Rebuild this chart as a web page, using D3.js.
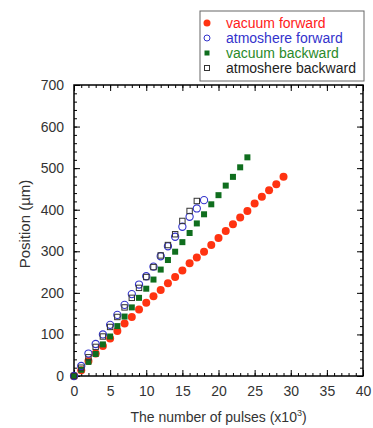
<!DOCTYPE html>
<html>
<head>
<meta charset="utf-8">
<script src="https://cdn.jsdelivr.net/npm/d3@7"></script>
<style>
  body { margin: 0; background: #fff; }
  svg text { font-family: "Liberation Sans", Arial, sans-serif; }
</style>
</head>
<body>
<svg id="chart" width="373" height="428"></svg>
<script>
// pulses (x10^3) and positions (um)
var vacFwdX = d3.range(0, 30);
var vacFwdY = [0, 14, 36, 54, 72, 90, 108, 126, 142, 160, 176, 192, 207, 223, 238,
  254, 271, 285, 299, 315, 332, 349, 365, 381, 397, 415, 431, 447, 461, 479];
var atmFwdX = d3.range(0, 19);
var atmFwdY = [0, 24, 54, 77, 100, 123, 147, 171, 197, 220, 240, 263, 288, 312, 335,
  359, 383, 403, 423];
var vacBwdX = d3.range(0, 25);
var vacBwdY = [0, 15, 34, 53, 76, 95, 120, 143, 165, 188, 210, 232, 256, 279, 299,
  322, 344, 367, 389, 413, 435, 458, 479, 502, 526];
var atmBwdX = d3.range(0, 18);
var atmBwdY = [0, 20, 45, 70, 95, 118, 142, 165, 188, 212, 238, 262, 290, 315, 341,
  373, 397, 421];

var xTicks = [0, 5, 10, 15, 20, 25, 30, 35, 40];
var yTicks = [0, 100, 200, 300, 400, 500, 600, 700];
var legendNames = ["vacuum forward", "atmoshere forward", "vacuum backward", "atmoshere backward"];

var plotL = 74, plotR = 363, plotT = 85, plotB = 376;

var svg = d3.select("#chart");
var x = d3.scaleLinear().domain([0, 40]).range([plotL, plotR]);
var y = d3.scaleLinear().domain([0, 700]).range([plotB, plotT]);

var tickColor = "#000";
var labelColor = "#333";

// minor ticks, all four sides, pointing inwards
function minorAxis(axis, g) {
  g.call(axis).call(function (s) {
    s.select(".domain").remove();
    s.selectAll("text").remove();
    s.selectAll("line").attr("stroke", tickColor);
  });
}
minorAxis(d3.axisBottom(x).tickValues(d3.range(0, 41, 1)).tickSize(-3),
  svg.append("g").attr("transform", "translate(0," + plotB + ")"));
minorAxis(d3.axisTop(x).tickValues(d3.range(0, 41, 1)).tickSize(-3),
  svg.append("g").attr("transform", "translate(0," + plotT + ")"));
minorAxis(d3.axisLeft(y).tickValues(d3.range(0, 701, 20)).tickSize(-3),
  svg.append("g").attr("transform", "translate(" + plotL + ",0)"));
minorAxis(d3.axisRight(y).tickValues(d3.range(0, 701, 20)).tickSize(-3),
  svg.append("g").attr("transform", "translate(" + plotR + ",0)"));

// major ticks
var xAxis = svg.append("g")
  .attr("transform", "translate(0," + plotB + ")")
  .call(d3.axisBottom(x).tickValues(xTicks).tickSize(-6).tickPadding(10));
var yAxis = svg.append("g")
  .attr("transform", "translate(" + plotL + ",0)")
  .call(d3.axisLeft(y).tickValues(yTicks).tickSize(-6).tickPadding(10));
var xTop = svg.append("g")
  .attr("transform", "translate(0," + plotT + ")")
  .call(d3.axisTop(x).tickValues(xTicks).tickSize(-6).tickFormat(""));
var yRight = svg.append("g")
  .attr("transform", "translate(" + plotR + ",0)")
  .call(d3.axisRight(y).tickValues(yTicks).tickSize(-6).tickFormat(""));

[xAxis, yAxis, xTop, yRight].forEach(function (g) {
  g.select(".domain").remove();
  g.selectAll("line").attr("stroke", tickColor).attr("stroke-width", 1);
  g.selectAll("text")
    .style("font-size", "14px")
    .attr("fill", labelColor);
});

// frame
svg.append("rect")
  .attr("x", plotL).attr("y", plotT)
  .attr("width", plotR - plotL).attr("height", plotB - plotT)
  .attr("fill", "none").attr("stroke", "#000").attr("stroke-width", 1.5);

// axis titles
var xTitle = svg.append("text")
  .attr("x", (plotL + plotR) / 2)
  .attr("y", 422)
  .attr("text-anchor", "middle")
  .style("font-size", "14px")
  .attr("fill", labelColor);
xTitle.append("tspan").text("The number of pulses (x10");
xTitle.append("tspan").attr("dy", -6).style("font-size", "9px").text("3");
xTitle.append("tspan").attr("dy", 6).text(")");

svg.append("text")
  .attr("transform", "translate(30,224) rotate(-90)")
  .attr("text-anchor", "middle")
  .style("font-size", "15px")
  .attr("fill", labelColor)
  .text("Position (\u00b5m)");

// data
var red = "#ff3311", blue = "#3333cc", green = "#0f6e1e", black = "#333333";

function pts(xs, ys) {
  return xs.map(function (d, i) { return [d, ys[i]]; });
}

var plot = svg.append("g");

plot.selectAll("circle.vf")
  .data(pts(vacFwdX, vacFwdY))
  .enter().append("circle")
  .attr("class", "vf")
  .attr("cx", function (d) { return x(d[0]); })
  .attr("cy", function (d) { return y(d[1]); })
  .attr("r", 4)
  .attr("fill", red);

plot.selectAll("rect.vb")
  .data(pts(vacBwdX, vacBwdY))
  .enter().append("rect")
  .attr("class", "vb")
  .attr("x", function (d) { return x(d[0]) - 3; })
  .attr("y", function (d) { return y(d[1]) - 3; })
  .attr("width", 6).attr("height", 6)
  .attr("fill", green);

plot.selectAll("circle.af")
  .data(pts(atmFwdX, atmFwdY))
  .enter().append("circle")
  .attr("class", "af")
  .attr("cx", function (d) { return x(d[0]); })
  .attr("cy", function (d) { return y(d[1]); })
  .attr("r", 3.6)
  .attr("fill", "none")
  .attr("stroke", blue)
  .attr("stroke-width", 1.1);

plot.selectAll("rect.ab")
  .data(pts(atmBwdX, atmBwdY))
  .enter().append("rect")
  .attr("class", "ab")
  .attr("x", function (d) { return x(d[0]) - 2.7; })
  .attr("y", function (d) { return y(d[1]) - 2.7; })
  .attr("width", 5.4).attr("height", 5.4)
  .attr("fill", "none")
  .attr("stroke", black)
  .attr("stroke-width", 1);

// legend
var lg = svg.append("g");
lg.append("rect")
  .attr("x", 200).attr("y", 11)
  .attr("width", 164).attr("height", 70)
  .attr("fill", "#fff")
  .attr("stroke", "#666").attr("stroke-width", 1);

var textColors = ["#ff1a1a", "#3333cc", "#2a8a2a", "#222"];
legendNames.forEach(function (name, i) {
  var cy = 23 + i * 15;
  if (i == 0) {
    lg.append("circle").attr("cx", 207).attr("cy", cy).attr("r", 3.5).attr("fill", red);
  } else if (i == 1) {
    lg.append("circle").attr("cx", 207).attr("cy", cy).attr("r", 3)
      .attr("fill", "none").attr("stroke", blue).attr("stroke-width", 1);
  } else if (i == 2) {
    lg.append("rect").attr("x", 204.5).attr("y", cy - 2.5).attr("width", 5).attr("height", 5)
      .attr("fill", green);
  } else {
    lg.append("rect").attr("x", 204.5).attr("y", cy - 2.5).attr("width", 5).attr("height", 5)
      .attr("fill", "none").attr("stroke", black).attr("stroke-width", 1);
  }
  lg.append("text")
    .attr("x", 226).attr("y", cy + 5)
    .style("font-size", "14px")
    .attr("fill", textColors[i])
    .text(name);
});
</script>
</body>
</html>
